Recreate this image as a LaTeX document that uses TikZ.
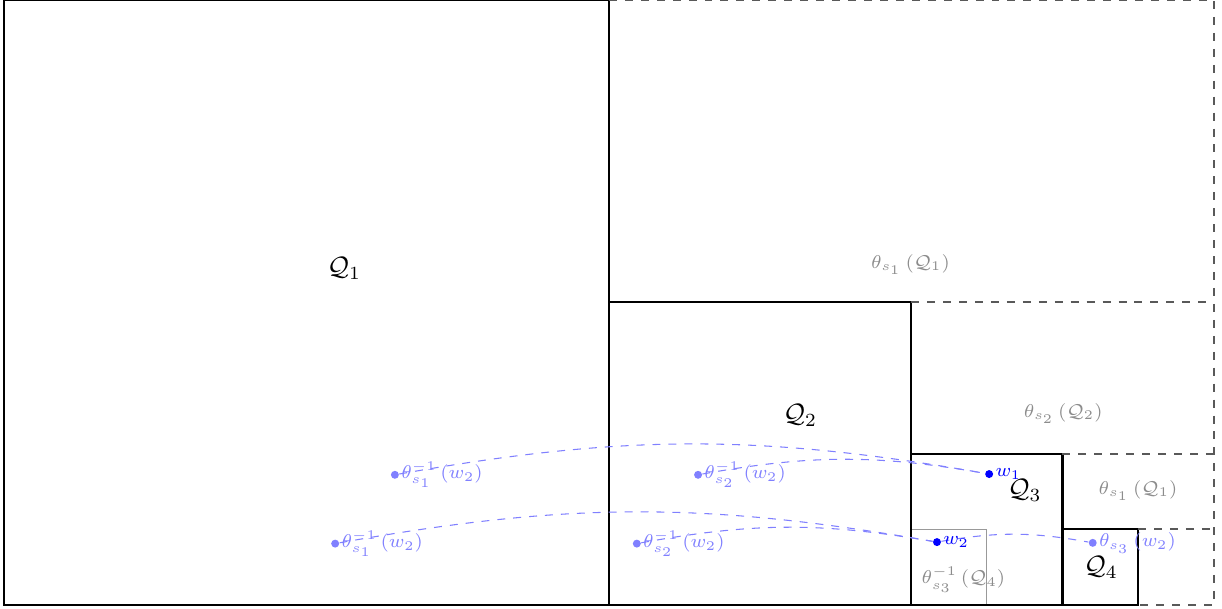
\documentclass[tikz,border=0pt]{standalone}
\begin{document}
\begin{tikzpicture}[
  qbox/.style={draw=black, thick},
  gdash/.style={draw=black!65, thick, dashed},
  thinbox/.style={draw=black!40, thin},
  qlbl/.style={font=\normalsize, text=black, inner sep=0pt},
  glbl/.style={font=\scriptsize, text=black!45, inner sep=0pt},
  bdot/.style={circle, fill=blue!50, inner sep=0pt, minimum size=3pt},
  ddot/.style={circle, fill=blue, inner sep=0pt, minimum size=3pt},
  blbl/.style={font=\scriptsize, text=blue!50, anchor=west, inner sep=0.5pt},
  dlbl/.style={font=\scriptsize, text=blue, anchor=west, inner sep=0.5pt},
  curve/.style={draw=blue!50, dashed, bend left=10}
]
\useasboundingbox (-0.053,-0.045) rectangle (16.11,8.0);
% regions
\draw[thinbox] (12,0) rectangle (13,1);
\draw[qbox] (0,0) rectangle (8,8);
\draw[qbox] (8,0) rectangle (12,4);
\draw[qbox] (12,0) rectangle (14,2);
\draw[qbox] (14,0) rectangle (15,1);
\draw[gdash] (8,8) -- (16,8) -- (16,0) -- (15,0);
\draw[gdash] (12,4) -- (16,4);
\draw[gdash] (14,2) -- (16,2);
\draw[gdash] (15,1) -- (16,1);
% region labels
\node[qlbl] (lq1) at (4.5,4.45) {$\mathcal{Q}_1$};
\node[qlbl] (lq2) at (10.53,2.5) {$\mathcal{Q}_2$};
\node[qlbl] (lq3) at (13.5,1.51) {$\mathcal{Q}_3$};
\node[qlbl] (lq4) at (14.51,0.5) {$\mathcal{Q}_4$};
\node[glbl] (g1) at (11.99,4.5) {$\theta_{s_1}\left(\mathcal{Q}_1\right)$};
\node[glbl] (g2) at (14.01,2.53) {$\theta_{s_2}\left(\mathcal{Q}_2\right)$};
\node[glbl] (g3) at (15.0,1.51) {$\theta_{s_1}\left(\mathcal{Q}_1\right)$};
\node[glbl] (g4) at (12.69,0.33) {$\theta_{s_3}^{-1}\left(\mathcal{Q}_4\right)$};
% points
\node[bdot] (a1) at (5.17,1.72) {};
\node[bdot] (a2) at (9.18,1.72) {};
\node[ddot] (w1) at (13.03,1.73) {};
\node[bdot] (b1) at (4.38,0.81) {};
\node[bdot] (b2) at (8.37,0.81) {};
\node[ddot] (w2) at (12.34,0.83) {};
\node[bdot] (b3) at (14.40,0.82) {};
% curves
\draw[curve] (a1) to (w1);
\draw[curve] (a2) to (w1);
\draw[curve] (b1) to (w2);
\draw[curve] (b2) to (w2);
\draw[curve] (w2) to (b3);
% point labels
\node[blbl] (la1) at (a1.east) {$\theta_{s_1}^{-1}\left(w_2\right)$};
\node[blbl] (la2) at (a2.east) {$\theta_{s_2}^{-1}\left(w_2\right)$};
\node[dlbl] (lw1) at (w1.east) {$w_1$};
\node[blbl] (lb1) at (b1.east) {$\theta_{s_1}^{-1}\left(w_2\right)$};
\node[blbl] (lb2) at (b2.east) {$\theta_{s_2}^{-1}\left(w_2\right)$};
\node[dlbl] (lw2) at (w2.east) {$w_2$};
\node[blbl] (lb3) at (b3.east) {$\theta_{s_3}\left(w_2\right)$};
\end{tikzpicture}
\end{document}
